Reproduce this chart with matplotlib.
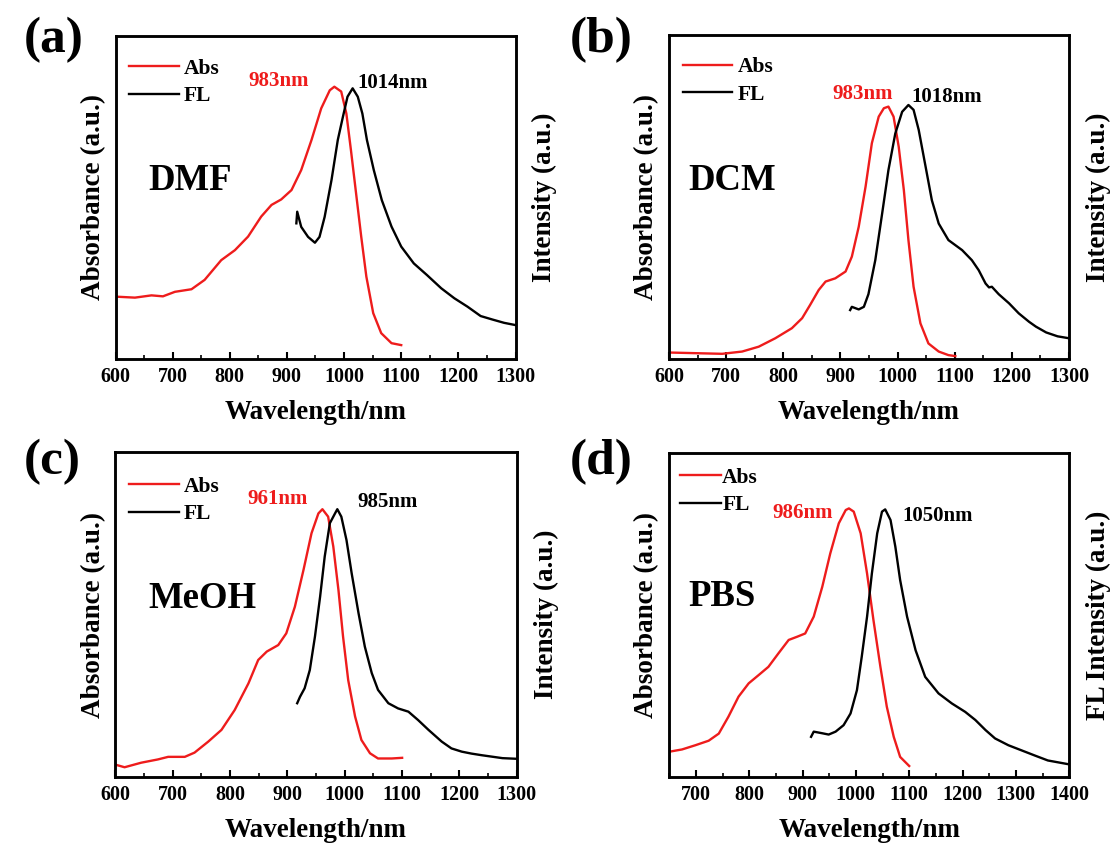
import matplotlib
matplotlib.use("Agg")
import matplotlib.pyplot as plt
from matplotlib.ticker import MultipleLocator

plt.rcParams['font.family'] = ['Liberation Serif', 'DejaVu Serif']
plt.rcParams['font.weight'] = 'bold'
plt.rcParams['axes.labelweight'] = 'bold'

# ---------------- data (normalized arbitrary units) ----------------
# (a) DMF
a_abs_x = [601, 634, 663, 683, 704, 733, 756, 785, 809, 832, 855, 873, 890, 908, 925, 943, 960, 975, 983,
           995, 1004, 1012, 1021, 1030, 1039, 1051, 1065, 1083, 1100]
a_abs_y = [0.193, 0.19, 0.197, 0.194, 0.208, 0.216, 0.245, 0.306, 0.337, 0.379, 0.441, 0.477, 0.494, 0.523,
           0.585, 0.678, 0.776, 0.832, 0.843, 0.828, 0.76, 0.647, 0.513, 0.379, 0.255, 0.142, 0.08, 0.049, 0.043]
a_fl_x = [916.5, 918, 925, 937, 949, 957, 966, 978, 989, 998, 1006, 1015, 1024, 1032, 1040, 1052, 1066, 1083,
          1100, 1122, 1145, 1170, 1193, 1216, 1239, 1260, 1280, 1300]
a_fl_y = [0.42, 0.456, 0.409, 0.378, 0.36, 0.378, 0.44, 0.554, 0.678, 0.75, 0.812, 0.838, 0.812, 0.76, 0.678,
          0.585, 0.492, 0.41, 0.348, 0.296, 0.26, 0.219, 0.188, 0.162, 0.133, 0.122, 0.112, 0.105]

# (b) DCM
b_abs_x = [600, 646, 693, 728, 757, 786, 815, 833, 847, 862, 874, 891, 909, 920, 932, 944, 955, 967, 976, 984,
           993, 1002, 1011, 1019, 1028, 1040, 1054, 1072, 1089, 1101]
b_abs_y = [0.02, 0.018, 0.016, 0.023, 0.038, 0.064, 0.095, 0.126, 0.167, 0.213, 0.239, 0.249, 0.27, 0.316,
           0.408, 0.532, 0.666, 0.748, 0.774, 0.779, 0.748, 0.655, 0.521, 0.367, 0.223, 0.11, 0.048, 0.023,
           0.012, 0.009]
b_fl_x = [917, 920, 932, 941, 949, 961, 973, 984, 996, 1008, 1019, 1028, 1037, 1049, 1060, 1072, 1089, 1113,
          1130, 1142, 1154, 1160, 1165, 1177, 1195, 1212, 1230, 1242, 1260, 1280, 1300]
b_fl_y = [0.151, 0.161, 0.153, 0.161, 0.2, 0.305, 0.449, 0.583, 0.696, 0.763, 0.784, 0.769, 0.707, 0.594,
          0.49, 0.418, 0.367, 0.336, 0.305, 0.274, 0.233, 0.221, 0.223, 0.2, 0.172, 0.141, 0.115, 0.1, 0.082,
          0.07, 0.064]

# (c) MeOH
c_abs_x = [602, 616, 645, 674, 692, 721, 738, 762, 785, 808, 832, 849, 864, 884, 898, 913, 928, 942, 954, 961,
           971, 980, 989, 997, 1006, 1018, 1029, 1044, 1058, 1082, 1100]
c_abs_y = [0.037, 0.03, 0.044, 0.054, 0.062, 0.062, 0.075, 0.109, 0.145, 0.206, 0.288, 0.36, 0.386, 0.406,
           0.442, 0.524, 0.637, 0.75, 0.811, 0.824, 0.801, 0.709, 0.575, 0.432, 0.298, 0.186, 0.114, 0.073,
           0.057, 0.057, 0.059]
c_fl_x = [917, 922, 930, 939, 948, 957, 965, 974, 983, 987, 994, 1003, 1012, 1024, 1035, 1047, 1058, 1076, 1093,
          1111, 1128, 1146, 1169, 1186, 1204, 1221, 1239, 1255, 1275, 1300]
c_fl_y = [0.227, 0.247, 0.273, 0.329, 0.432, 0.555, 0.678, 0.781, 0.811, 0.824, 0.801, 0.729, 0.627, 0.504,
          0.401, 0.32, 0.268, 0.227, 0.211, 0.201, 0.175, 0.145, 0.109, 0.088, 0.078, 0.072, 0.067, 0.063,
          0.058, 0.056]

# (d) PBS
d_abs_x = [650, 674, 699, 724, 743, 761, 780, 799, 818, 836, 855, 874, 890, 905, 921, 937, 952, 968, 981, 987,
           996, 1009, 1021, 1033, 1046, 1058, 1071, 1083, 1100]
d_abs_y = [0.078, 0.085, 0.098, 0.112, 0.134, 0.186, 0.248, 0.289, 0.315, 0.34, 0.382, 0.423, 0.433, 0.443,
           0.495, 0.587, 0.69, 0.783, 0.824, 0.829, 0.819, 0.752, 0.628, 0.484, 0.34, 0.217, 0.124, 0.062, 0.034]
d_fl_x = [916, 921, 937, 949, 962, 977, 990, 1002, 1011, 1021, 1030, 1040, 1049, 1055, 1065, 1074, 1083, 1096,
          1112, 1130, 1155, 1180, 1205, 1224, 1243, 1261, 1286, 1311, 1336, 1360, 1400]
d_fl_y = [0.124, 0.14, 0.135, 0.131, 0.14, 0.16, 0.196, 0.268, 0.371, 0.495, 0.628, 0.752, 0.819, 0.826,
          0.793, 0.711, 0.608, 0.495, 0.391, 0.309, 0.258, 0.227, 0.201, 0.176, 0.145, 0.119, 0.098, 0.082,
          0.066, 0.051, 0.039]

panel_letters = ['(a)', '(b)', '(c)', '(d)']
solvents = ['DMF', 'DCM', 'MeOH', 'PBS']
abs_peaks = ['983nm', '983nm', '961nm', '986nm']
fl_peaks = ['1014nm', '1018nm', '985nm', '1050nm']
right_labels = ['Intensity (a.u.)', 'Intensity (a.u.)', 'Intensity (a.u.)', 'FL Intensity (a.u.)']
xlims = [(600, 1300), (600, 1300), (600, 1300), (650, 1400)]
xticks = [list(range(600, 1301, 100))] * 3 + [list(range(700, 1401, 100))]

abs_data = [(a_abs_x, a_abs_y), (b_abs_x, b_abs_y), (c_abs_x, c_abs_y), (d_abs_x, d_abs_y)]
fl_data = [(a_fl_x, a_fl_y), (b_fl_x, b_fl_y), (c_fl_x, c_fl_y), (d_fl_x, d_fl_y)]

# ---------------- layout ----------------
W, H = 1116, 848
fig = plt.figure(figsize=(W / 100, H / 100), dpi=100)

def px_axes(l, t, r, b):
    return [l / W, 1 - b / H, (r - l) / W, (b - t) / H]

rects = [px_axes(115.5, 36, 515.5, 359), px_axes(669, 35, 1069, 359),
         px_axes(115.4, 452, 516.8, 777), px_axes(669.2, 453, 1069.2, 777)]

# text positions (axes fraction)
abs_ann = [(0.331, 0.861), (0.4095, 0.818), (0.330, 0.855), (0.259, 0.815)]
fl_ann = [(0.604, 0.854), (0.605, 0.809), (0.602, 0.846), (0.5835, 0.806)]
solv_pos = [(0.081, 0.554), (0.0475, 0.552), (0.081, 0.548), (0.047, 0.556)]
leg_pos = [(0.034, 0.930), (0.034, 0.931), (0.034, 0.924), (0.027, 0.955)]
leg_hl = [2.3, 2.3, 2.3, 1.9]
leg_tp = [0.25, 0.25, 0.25, 0.06]
letter_pos = [(24, 40), (570, 40), (24, 462), (570, 462)]

red = '#ee1c1c'
for i in range(4):
    ax = fig.add_axes(rects[i])
    ax2 = ax.twinx()
    la, = ax.plot(*abs_data[i], color=red, lw=1.7, label='Abs')
    lf, = ax2.plot(*fl_data[i], color='black', lw=1.7, label='FL')
    ax.set_xlim(*xlims[i])
    ax.set_ylim(0, 1)
    ax2.set_ylim(0, 1)
    ax.set_xticks(xticks[i])
    ax.xaxis.set_minor_locator(MultipleLocator(50))
    ax.tick_params(axis='x', which='major', direction='in', length=5, width=1.5, labelsize=14.5, pad=6,
                   top=False)
    ax.tick_params(axis='x', which='minor', direction='in', length=3, width=1.2, top=False)
    ax.set_yticks([])
    ax2.set_yticks([])
    for lab in ax.get_xticklabels():
        lab.set_fontweight('bold')
    for a in (ax, ax2):
        for sp in a.spines.values():
            sp.set_linewidth(1.8)
    ax.set_xlabel('Wavelength/nm', fontsize=19.5, fontweight='bold', labelpad=9)
    ax.set_ylabel('Absorbance (a.u.)', fontsize=19.5, fontweight='bold', labelpad=7)
    ax2.set_ylabel(right_labels[i], fontsize=19.5, fontweight='bold', labelpad=12)

    ax.text(*abs_ann[i], abs_peaks[i], transform=ax.transAxes, color=red, fontsize=15,
            fontweight='bold', va='center', ha='left')
    ax.text(*fl_ann[i], fl_peaks[i], transform=ax.transAxes, color='black', fontsize=15,
            fontweight='bold', va='center', ha='left')
    ax.text(*solv_pos[i], solvents[i], transform=ax.transAxes, fontsize=26.5, fontweight='bold',
            va='center', ha='left')
    ax2.legend([la, lf], ['Abs', 'FL'], loc='upper left', bbox_to_anchor=leg_pos[i], frameon=False,
               prop={'family': 'Liberation Serif', 'weight': 'bold', 'size': 15.5},
               handlelength=leg_hl[i], handletextpad=leg_tp[i], labelspacing=0.34, borderpad=0,
               borderaxespad=0)
    fig.text(letter_pos[i][0] / W, 1 - letter_pos[i][1] / H, panel_letters[i], fontsize=37,
             fontweight='bold', va='center', ha='left')

fig.savefig('out.png', dpi=100)
